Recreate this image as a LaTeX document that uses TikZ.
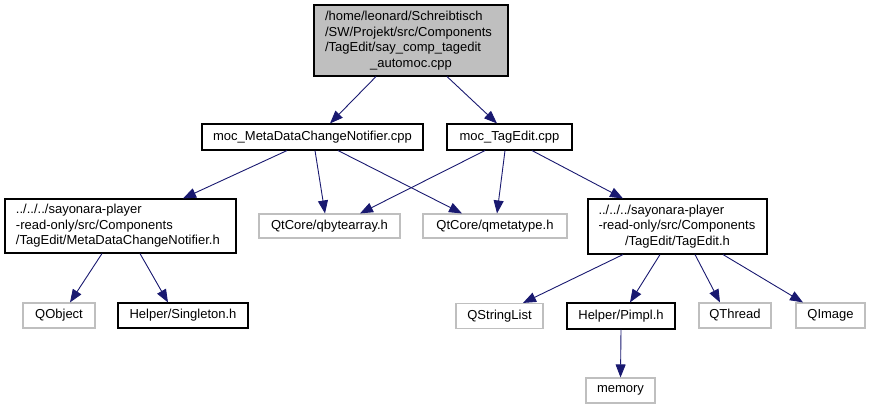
\documentclass[tikz,border=0pt]{standalone}
\usepackage{fontspec}
\setmainfont{Liberation Sans}
\usetikzlibrary{arrows.meta}
\definecolor{edgeblue}{RGB}{25,25,112}
\definecolor{extgray}{RGB}{191,191,191}
\begin{document}
\begin{tikzpicture}[x=1pt,y=-1pt,
  box/.style={draw=black,line width=1.1pt,inner sep=0pt,rectangle,font=\fontsize{13}{15.5}\selectfont},
  extbox/.style={draw=extgray,line width=1.1pt,inner sep=0pt,rectangle,font=\fontsize{13}{15.5}\selectfont},
  rootbox/.style={box,fill=extgray},
  dep/.style={draw=edgeblue,line width=0.9pt,-{Triangle[length=13pt,width=10pt]}}]
\useasboundingbox (0,0) rectangle (869,409);

\node[rootbox,minimum width=194pt,minimum height=71pt] (top) at (411,40.5)
 {\begin{minipage}{172pt}\raggedright /home/leonard/Schreibtisch\\/SW/Projekt/src/Components\\/TagEdit/say\_comp\_tagedit\par\centering \_automoc.cpp\par\end{minipage}};

\node[box,minimum width=221pt,minimum height=26pt] (mdcn) at (312.5,137) {moc\_MetaDataChangeNotifier.cpp};
\node[box,minimum width=125pt,minimum height=26pt] (tagcpp) at (509.5,137) {moc\_TagEdit.cpp};

\node[box,minimum width=231pt,minimum height=54pt] (lefth) at (120.5,226)
 {\begin{minipage}{209pt}\raggedright ../../../sayonara-player\\-read-only/src/Components\\/TagEdit/MetaDataChangeNotifier.h\par\end{minipage}};
\node[extbox,minimum width=141pt,minimum height=24pt] (qbyte) at (329.5,226) {QtCore/qbytearray.h};
\node[extbox,minimum width=144pt,minimum height=24pt] (qmeta) at (495,226) {QtCore/qmetatype.h};
\node[box,minimum width=179pt,minimum height=55pt] (tagh) at (677.5,226.5)
 {\begin{minipage}{158pt}\raggedright ../../../sayonara-player\\-read-only/src/Components\par\centering /TagEdit/TagEdit.h\par\end{minipage}};

\node[extbox,minimum width=72pt,minimum height=25pt] (qobject) at (59,315.5) {QObject};
\node[box,minimum width=130pt,minimum height=25pt] (singleton) at (183,315.5) {Helper/Singleton.h};
\node[extbox,minimum width=87pt,minimum height=25pt] (qstring) at (499.5,316) {QStringList};
\node[box,minimum width=108pt,minimum height=26pt] (pimpl) at (621,316) {Helper/Pimpl.h};
\node[extbox,minimum width=72pt,minimum height=25pt] (qthread) at (735,315.5) {QThread};
\node[extbox,minimum width=69pt,minimum height=25pt] (qimage) at (830.5,315.5) {QImage};
\node[extbox,minimum width=69pt,minimum height=25pt] (memory) at (620.5,390.5) {memory};

\draw[dep] ([xshift=-35pt]top.south) -- ([xshift=17.5pt]mdcn.north);
\draw[dep] ([xshift=36pt]top.south) -- ([xshift=-12.5pt]tagcpp.north);
\draw[dep] ([xshift=-25.5pt]mdcn.south) -- ([xshift=62.5pt]lefth.north);
\draw[dep] ([xshift=2.5pt]mdcn.south) -- ([xshift=-4.5pt]qbyte.north);
\draw[dep] ([xshift=25.5pt]mdcn.south) -- ([xshift=-33pt]qmeta.north);
\draw[dep] ([xshift=-24.5pt]tagcpp.south) -- ([xshift=30.5pt]qbyte.north);
\draw[dep] ([xshift=-4.5pt]tagcpp.south) -- ([xshift=2pt]qmeta.north);
\draw[dep] ([xshift=22.5pt]tagcpp.south) -- ([xshift=-54.5pt]tagh.north);
\draw[dep] ([xshift=-18.5pt]lefth.south) -- ([xshift=11pt]qobject.north);
\draw[dep] ([xshift=19.5pt]lefth.south) -- ([xshift=-15pt]singleton.north);
\draw[dep] ([xshift=-54.5pt]tagh.south) -- ([xshift=23.5pt]qstring.north);
\draw[dep] ([xshift=-17.5pt]tagh.south) -- ([xshift=9pt]pimpl.north);
\draw[dep] ([xshift=17.5pt]tagh.south) -- ([xshift=-15pt]qthread.north);
\draw[dep] ([xshift=45.5pt]tagh.south) -- ([xshift=-27.5pt]qimage.north);
\draw[dep] (pimpl.south) -- (memory.north);
\end{tikzpicture}
\end{document}
